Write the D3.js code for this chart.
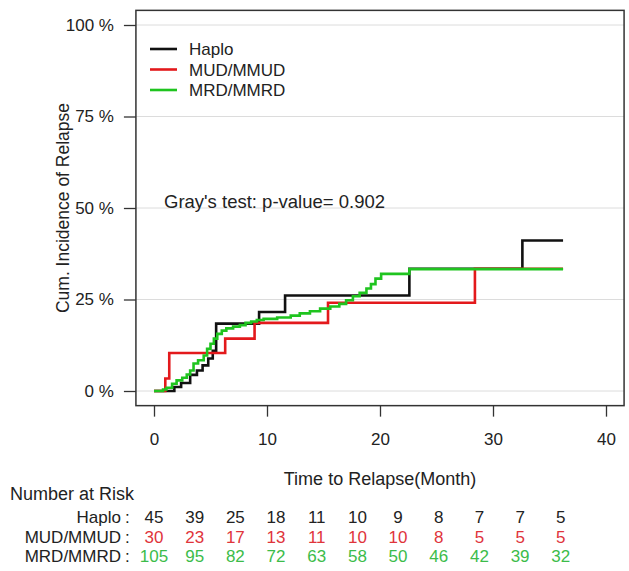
<!DOCTYPE html>
<html>
<head>
<meta charset="utf-8">
<script src="https://cdn.jsdelivr.net/npm/d3@7"></script>
<style>
  body { margin: 0; background: #fff; }
  svg text { font-family: 'Liberation Sans', Arial, sans-serif; fill: #222; }
</style>
</head>
<body>
<svg id="chart" width="629" height="571"></svg>
<script>
// step curves: time (months) and cumulative incidence (%) after each step
const haploTimes = [0, 1.8, 2.4, 3.2, 3.8, 4.3, 4.8, 5.2, 5.5, 9.3, 11.6, 22.6, 32.6, 36.2];
const haploCif   = [0, 1.1, 2.2, 4.4, 5.6, 7.0, 8.9, 11.0, 18.4, 21.6, 26.1, 33.4, 41.1, 41.1];

const mudTimes = [0, 1.0, 1.35, 6.3, 8.9, 15.4, 28.4, 36.2];
const mudCif   = [0, 3.4, 10.4, 14.3, 18.6, 24.1, 33.4, 33.4];

const mrdTimes = [0, 0.8, 1.1, 1.6, 2.0, 2.5, 2.9, 3.2, 3.5, 3.9, 4.4, 4.7, 5.0, 5.3, 5.6, 6.0, 6.4, 7.0, 7.6,
                  8.1, 8.6, 9.1, 9.7, 10.9, 12.1, 12.9, 13.8, 14.7, 15.6, 16.4, 17.0, 17.6, 18.2, 18.8, 19.2,
                  19.6, 20.1, 22.6, 36.2];
const mrdCif   = [0, 0.4, 0.9, 2.0, 2.9, 3.6, 4.5, 5.6, 7.5, 8.4, 9.7, 11.5, 12.9, 14.3, 15.6, 16.5, 17.1, 17.6, 18.0,
                  18.6, 19.0, 19.4, 19.7, 20.1, 20.6, 21.2, 21.8, 22.5, 23.1, 23.8, 24.8, 25.9, 26.8, 28.0, 29.2,
                  30.7, 32.0, 33.3, 33.3];

const groups = ['Haplo', 'MUD/MMUD', 'MRD/MMRD'];
const lineColors = ['#111111', '#e3191c', '#1fc41f'];
const textColors = ['#222222', '#e0343b', '#3cbc4a'];

const xTicks = [0, 10, 20, 30, 40];
const yTicks = [0, 25, 50, 75, 100];

const riskTimes = [0, 3.6, 7.2, 10.8, 14.4, 18, 21.6, 25.2, 28.8, 32.4, 36];
const riskHaplo = [45, 39, 25, 18, 11, 10, 9, 8, 7, 7, 5];
const riskMud   = [30, 23, 17, 13, 11, 10, 10, 8, 5, 5, 5];
const riskMrd   = [105, 95, 82, 72, 63, 58, 50, 46, 42, 39, 32];

const svg = d3.select('#chart');

const x = d3.scaleLinear().domain([0, 40]).range([154, 606]);
const y = d3.scaleLinear().domain([0, 100]).range([391, 25]);

const boxLeft = x(-1.6), boxRight = x(41.6);
const boxTop = y(104), boxBottom = y(-4);

// grid lines
svg.selectAll('.grid')
    .data(yTicks)
    .enter()
    .append('line')
    .attr('x1', boxLeft)
    .attr('x2', boxRight)
    .attr('y1', d => y(d))
    .attr('y2', d => y(d))
    .attr('stroke', '#dcdcdc')
    .attr('stroke-width', 1);

// axes
const yAxis = svg.append('g')
    .attr('transform', `translate(${boxLeft},0)`)
    .call(d3.axisLeft(y).tickValues(yTicks).tickSize(12).tickPadding(10).tickFormat(d => d + ' %'));
const xAxis = svg.append('g')
    .attr('transform', `translate(0,${boxBottom})`)
    .call(d3.axisBottom(x).tickValues(xTicks).tickSize(11).tickPadding(16));

[yAxis, xAxis].forEach(g => {
    g.select('.domain').remove();
    g.selectAll('line').attr('stroke', '#333').attr('stroke-width', 1.3);
    g.selectAll('text').attr('font-size', 17).attr('fill', '#222');
});

svg.append('rect')
    .attr('x', boxLeft)
    .attr('y', boxTop)
    .attr('width', boxRight - boxLeft)
    .attr('height', boxBottom - boxTop)
    .attr('fill', 'none')
    .attr('stroke', '#333')
    .attr('stroke-width', 1.5);

// curves
const line = d3.line()
    .x(d => x(d[0]))
    .y(d => y(d[1]))
    .curve(d3.curveStepAfter);

const series = [
    d3.zip(haploTimes, haploCif),
    d3.zip(mudTimes, mudCif),
    d3.zip(mrdTimes, mrdCif)
];

series.forEach((s, i) => {
    svg.append('path')
        .datum(s)
        .attr('d', line)
        .attr('fill', 'none')
        .attr('stroke', lineColors[i])
        .attr('stroke-width', 2.6);
});

// legend
groups.forEach((g, i) => {
    const ly = 49 + i * 20.5;
    svg.append('line')
        .attr('x1', 150).attr('x2', 177)
        .attr('y1', ly).attr('y2', ly)
        .attr('stroke', lineColors[i])
        .attr('stroke-width', 2.6);
    svg.append('text')
        .attr('x', 189)
        .attr('y', ly + 6)
        .attr('font-size', 17)
        .text(g);
});

svg.append('text')
    .attr('x', 164)
    .attr('y', 208)
    .attr('font-size', 18.5)
    .text("Gray's test: p-value= 0.902");

// axis titles
svg.append('text')
    .attr('transform', `translate(69,${(boxTop + boxBottom) / 2}) rotate(-90)`)
    .attr('text-anchor', 'middle')
    .attr('font-size', 17.5)
    .text('Cum. Incidence of Relapse');

svg.append('text')
    .attr('x', (boxLeft + boxRight) / 2)
    .attr('y', 485)
    .attr('text-anchor', 'middle')
    .attr('font-size', 18)
    .text('Time to Relapse(Month)');

// number at risk table
svg.append('text')
    .attr('x', 10)
    .attr('y', 500)
    .attr('font-size', 18)
    .text('Number at Risk');

const riskRows = [riskHaplo, riskMud, riskMrd];
riskRows.forEach((row, i) => {
    const ry = 523 + i * 19.5;
    svg.append('text')
        .attr('x', 121)
        .attr('y', ry)
        .attr('text-anchor', 'end')
        .attr('font-size', 17)
        .text(groups[i]);
    svg.append('text')
        .attr('x', 125)
        .attr('y', ry)
        .attr('font-size', 17)
        .text(':');
    svg.selectAll(null)
        .data(row)
        .enter()
        .append('text')
        .attr('x', (d, j) => x(riskTimes[j]))
        .attr('y', ry)
        .attr('text-anchor', 'middle')
        .attr('font-size', 17)
        .style('fill', textColors[i])
        .text(d => d);
});
</script>
</body>
</html>
